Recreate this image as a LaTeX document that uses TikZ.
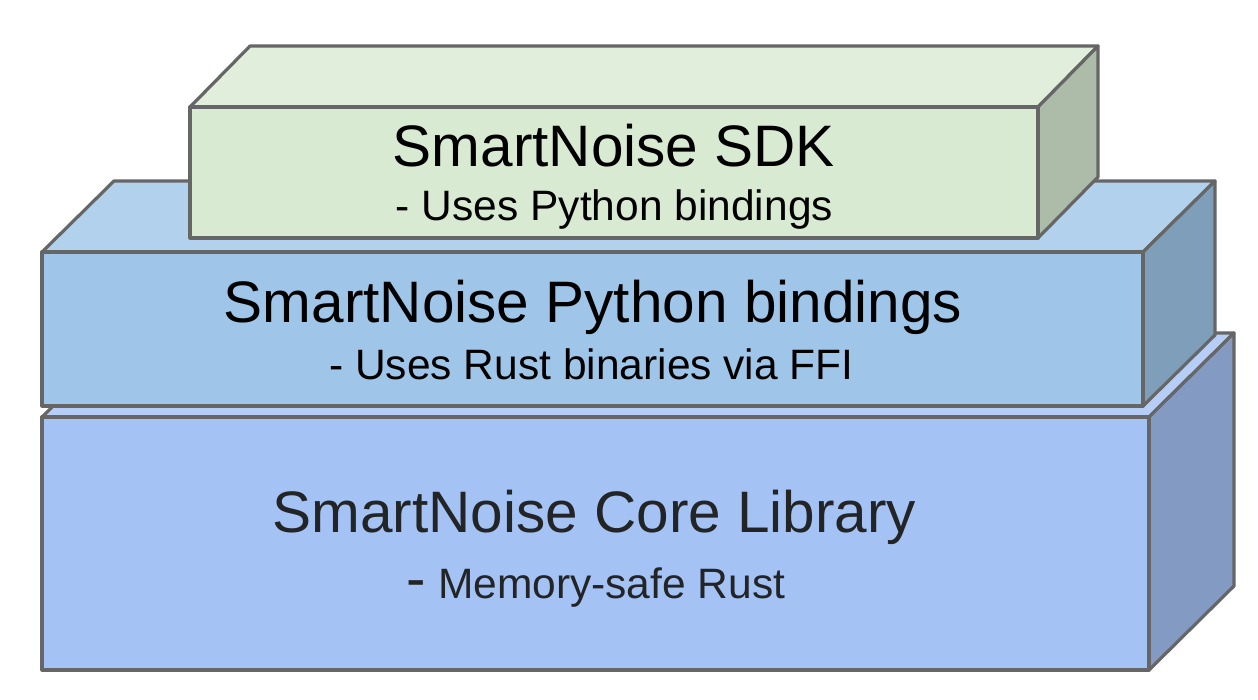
\documentclass[tikz,border=0pt]{standalone}
\usepackage{fontspec}
\setmainfont{Liberation Sans}
\definecolor{edgegray}{HTML}{666666}
\definecolor{sdkfront}{HTML}{D9EAD3}
\definecolor{sdktop}{HTML}{E1EEDC}
\definecolor{sdkside}{HTML}{ADBBA9}
\definecolor{pyfront}{HTML}{9FC5E8}
\definecolor{pytop}{HTML}{B2D1ED}
\definecolor{pyside}{HTML}{7F9EBA}
\definecolor{corefront}{HTML}{A4C2F4}
\definecolor{coretop}{HTML}{B6CEF6}
\definecolor{coreside}{HTML}{839BC3}
\definecolor{coretext}{HTML}{222426}
\tikzset{
  face/.style={draw=edgegray, line width=3.2pt, line join=round},
  titletext/.style={font=\fontsize{58.5}{63}\selectfont, anchor=base, inner sep=0pt},
  subtext/.style={font=\fontsize{42.5}{47}\selectfont, anchor=base, inner sep=0pt},
}
\begin{document}
\begin{tikzpicture}[x=1pt,y=-1pt]
\useasboundingbox (0,0) rectangle (1258,700);
% Core library cuboid
\filldraw[face, fill=coretop] (42,417) -- (127,333) -- (1234,333) -- (1149,417) -- cycle;
\filldraw[face, fill=coreside] (1149,417) -- (1234,333) -- (1234,586) -- (1149,670) -- cycle;
\filldraw[face, fill=corefront] (42,417) rectangle (1149,670);
% Python bindings cuboid
\filldraw[face, fill=pytop] (42,252) -- (114,181) -- (1215,181) -- (1143,252) -- cycle;
\filldraw[face, fill=pyside] (1143,252) -- (1215,181) -- (1215,335) -- (1143,406) -- cycle;
\filldraw[face, fill=pyfront] (42,252) rectangle (1143,406);
% SDK cuboid
\filldraw[face, fill=sdktop] (190,107) -- (250,46) -- (1098,46) -- (1038,107) -- cycle;
\filldraw[face, fill=sdkside] (1038,107) -- (1098,46) -- (1098,177) -- (1038,238) -- cycle;
\filldraw[face, fill=sdkfront] (190,107) rectangle (1038,238);
% Texts
\node[titletext] (sdktitle) at (614,167) {SmartNoise SDK};
\node[subtext] (sdksub) at (614.5,221) {- Uses Python bindings};
\node[titletext] (pytitle) at (593,323) {SmartNoise Python bindings};
\node[subtext] (pysub) at (591.5,380) {- Uses Rust binaries via FFI};
\node[titletext, text=coretext] (coretitle) at (594.5,532) {SmartNoise Core Library};
\node[subtext, text=coretext] (coresub) at (596,598) {{\fontsize{58.5}{63}\selectfont -} Memory-safe Rust};
\end{tikzpicture}
\end{document}
